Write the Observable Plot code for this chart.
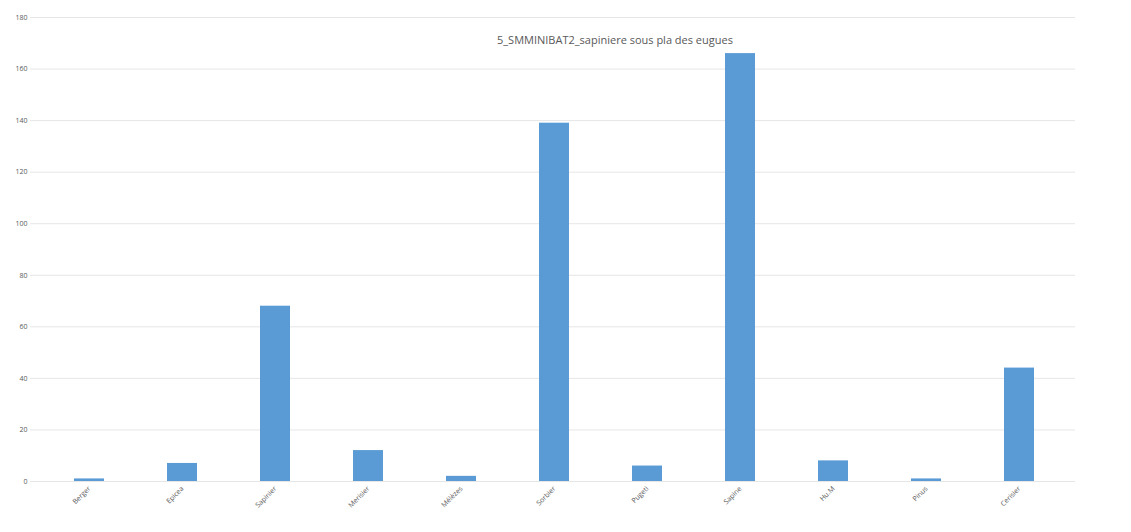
<!DOCTYPE html>
<html>
<head>
<meta charset="utf-8">
<script src="https://cdn.jsdelivr.net/npm/d3@7"></script>
<script src="https://cdn.jsdelivr.net/npm/@observablehq/plot@0.6"></script>
<style>
  html, body { margin: 0; padding: 0; background: #fff; }
  #wrap { position: relative; width: 1131px; height: 532px; font-family: "Open Sans", "Noto Sans", sans-serif; }
  #title { position: absolute; left: 497px; top: 32px; font-size: 11px; color: #595959; white-space: nowrap; }
</style>
</head>
<body>
<div id="wrap"><div id="title">5_SMMINIBAT2_sapiniere sous pla des eugues</div></div>
<script>
const categories = ["Berger", "Epicea", "Sapinier", "Merisier", "Mélèzes", "Sorbier", "Pugeti", "Sapine", "Hu.M", "Pinus", "Cerisier"];
const values = [1, 7, 68, 12, 2, 139, 6, 166, 8, 1, 44];
const yTicks = [0, 20, 40, 60, 80, 100, 120, 140, 160, 180];

const data = categories.map((c, i) => ({category: c, value: values[i]}));

const chart = Plot.plot({
  width: 1131,
  height: 532,
  marginTop: 17,
  marginBottom: 51,
  marginLeft: 39,
  marginRight: 62,
  style: {fontFamily: "'Open Sans', 'Noto Sans', sans-serif", fontSize: "7px", color: "#595959", background: "transparent"},
  x: {domain: categories, paddingInner: 0.68, paddingOuter: 0.34, label: null, tickSize: 0, tickRotate: -45, tickPadding: 6},
  y: {domain: [0, 180], ticks: yTicks, label: null, tickSize: 0, tickPadding: 12},
  marks: [
    Plot.ruleY(yTicks, {stroke: "#e6e6e6", strokeWidth: 1, insetLeft: -9, insetRight: -6}),
    Plot.barY(data, {x: "category", y: "value", fill: "#5b9bd5"})
  ]
});
document.getElementById("wrap").prepend(chart);
</script>
</body>
</html>
